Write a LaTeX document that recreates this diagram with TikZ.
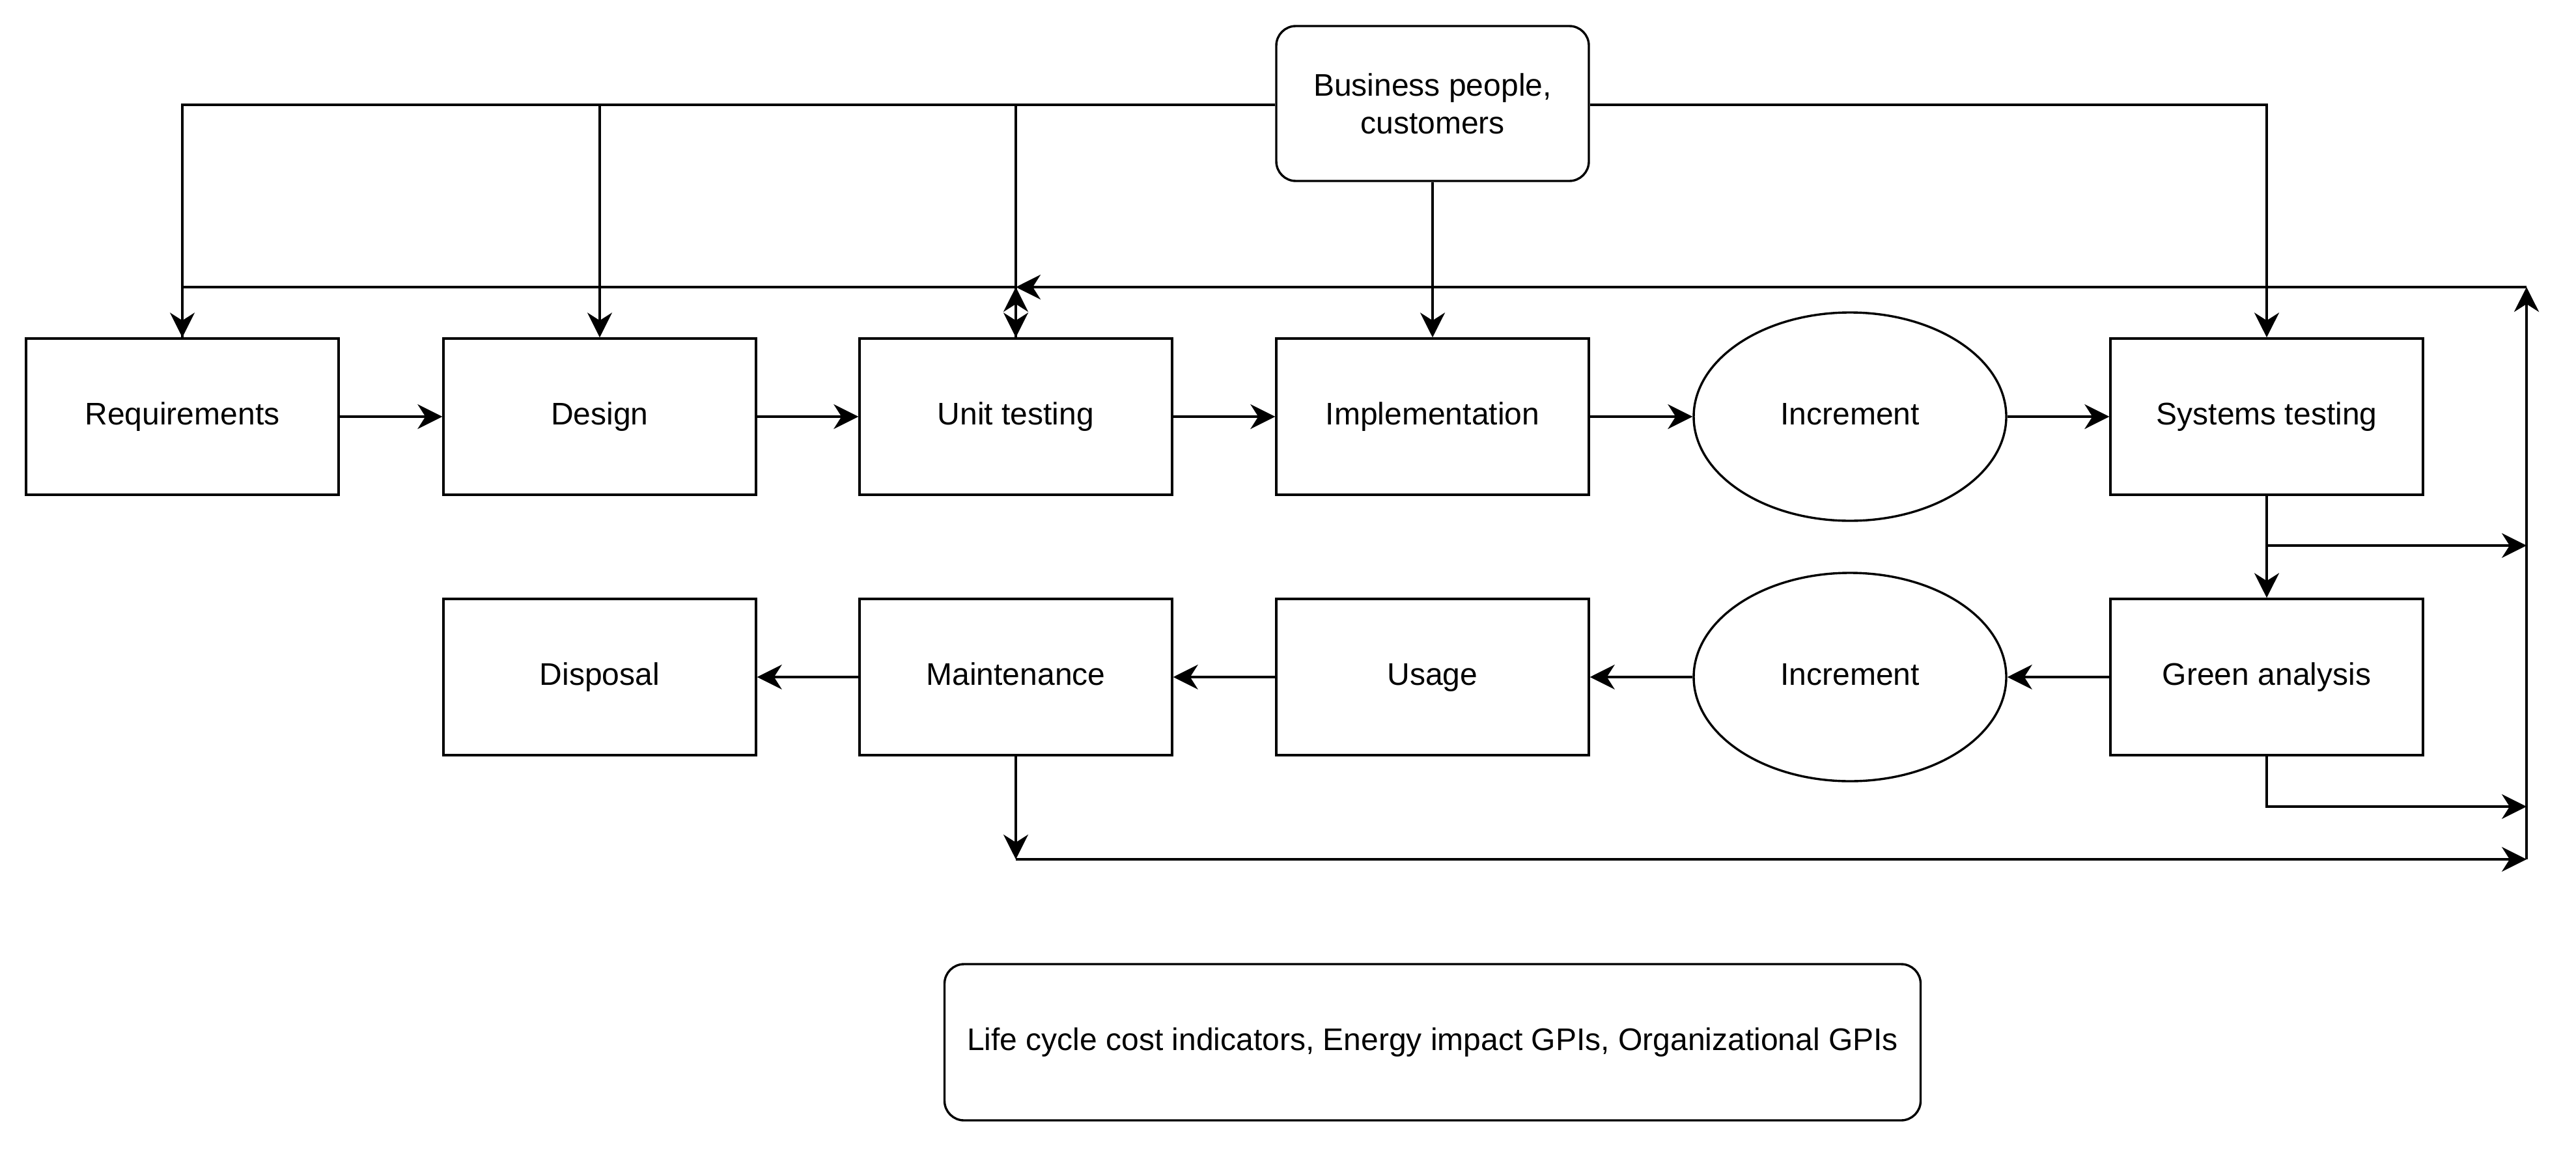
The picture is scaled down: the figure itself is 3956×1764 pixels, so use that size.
\documentclass[tikz,border=0pt]{standalone}
\usepackage{fontspec}
\setmainfont{Liberation Sans}
\usetikzlibrary{arrows.meta,shapes.geometric}
\begin{document}
\begin{tikzpicture}[x=1pt,y=-1pt,
  every node/.style={font=\fontsize{48}{58}\selectfont},
  oneline/.style={text height=35pt,text depth=10pt},
  stage/.style={draw,oneline,line width=3.4pt,minimum width=480pt,minimum height=240pt,inner sep=0pt},
  incr/.style={draw,oneline,ellipse,line width=3.4pt,minimum width=480pt,minimum height=320pt,inner sep=0pt},
  roundbox/.style={draw,line width=3.4pt,rounded corners=30pt,inner sep=0pt,align=center},
  conn/.style={line width=3.4pt},
  arr/.style={conn,-{Stealth[length=38pt,width=38pt,inset=12pt]}},
]
\useasboundingbox (0,0) rectangle (3956,1764);
% row 1
\node[stage] (req) at (280,640) {Requirements};
\node[stage] (des) at (921,640) {Design};
\node[stage] (unit) at (1560,640) {Unit testing};
\node[stage] (impl) at (2200,640) {Implementation};
\node[incr] (inc1) at (2841,640) {Increment};
\node[stage] (sys) at (3481,640) {Systems testing};
% row 2
\node[stage] (disp) at (921,1040) {Disposal};
\node[stage] (maint) at (1560,1040) {Maintenance};
\node[stage] (usage) at (2200,1040) {Usage};
\node[incr] (inc2) at (2841,1040) {Increment};
\node[stage] (green) at (3481,1040) {Green analysis};
% others
\node[roundbox,minimum width=480pt,minimum height=238pt] (biz) at (2200,159) {Business people,\\customers};
\node[roundbox,oneline,minimum width=1499pt,minimum height=240pt] (gpi) at (2200,1601) {Life cycle cost indicators, Energy impact GPIs, Organizational GPIs};
% helper coordinates
\coordinate (tl) at (280,441);
\coordinate (tu) at (1560,441);
\coordinate (tr) at (3880,441);
\coordinate (m1) at (3880,838);
\coordinate (m2) at (3880,1239);
\coordinate (bl) at (1560,1320);
\coordinate (br) at (3880,1320);
% row 1 flow
\draw[arr] (req) -- (des);
\draw[arr] (des) -- (unit);
\draw[arr] (unit) -- (impl);
\draw[arr] (impl) -- (inc1);
\draw[arr] (inc1) -- (sys);
% row 2 flow
\draw[arr] (green) -- (inc2);
\draw[arr] (inc2) -- (usage);
\draw[arr] (usage) -- (maint);
\draw[arr] (maint) -- (disp);
% business edges
\draw[arr] (biz.west |- 0,161) -| (req.north);
\draw[arr] (biz.west |- 0,161) -| (des.north);
\draw[arr] (biz.west |- 0,161) -| (unit.north);
\draw[arr] (biz.east |- 0,161) -| (sys.north);
\draw[arr] (biz.south) -- (impl.north);
% feedback
\draw[arr] (unit.north) -- (tu);
\draw[conn] (tu) -- (tl) -- (req.north);
\draw[arr] (sys.south) -- (green.north);
\draw[arr] (sys.south |- m1) -- (m1);
\draw[arr] (green.south) |- (m2);
\draw[arr] (maint.south) -- (bl);
\draw[arr] (bl) -- (br);
\draw[arr,line width=4.4pt] (br) -- (tr);
\draw[arr] (tr) -- (tu);
\end{tikzpicture}
\end{document}
